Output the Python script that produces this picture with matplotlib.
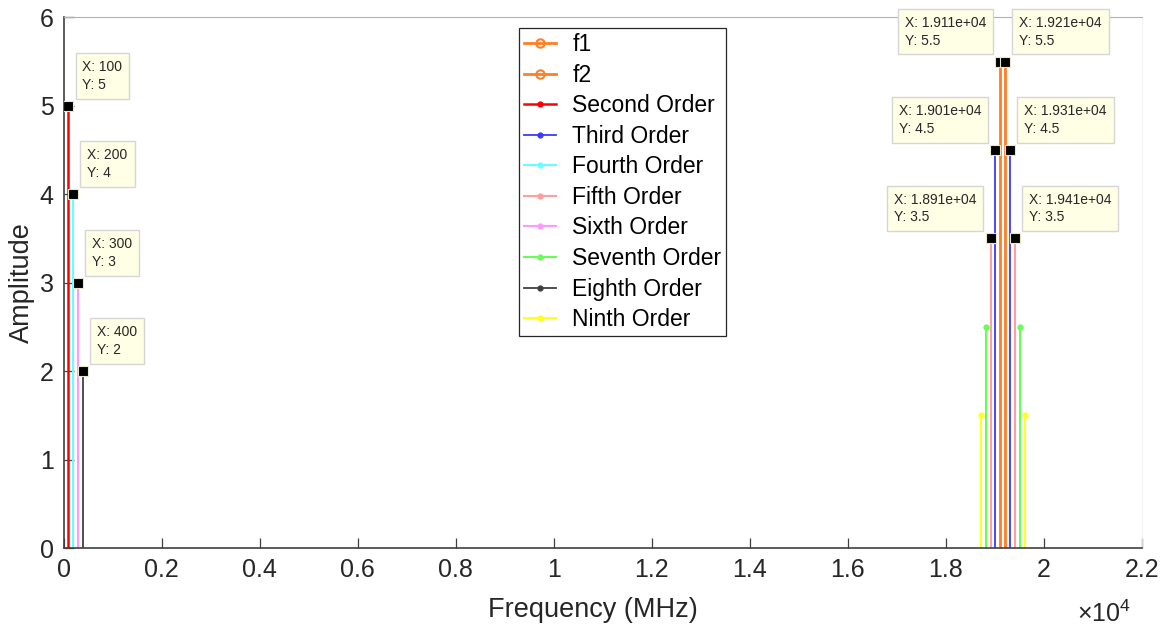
import numpy as np
import matplotlib.pyplot as plt
from matplotlib.lines import Line2D
from matplotlib.legend_handler import HandlerLine2D
from matplotlib.ticker import FuncFormatter

plt.rcParams['font.family'] = ['Liberation Sans', 'DejaVu Sans']
plt.rcParams['mathtext.default'] = 'regular'

# Данные: частоты (МГц) и амплитуды
f1_x, f1_y = [19110], [5.5]
f2_x, f2_y = [19210], [5.5]
ord2_x, ord2_y = [100], [5]
ord3_x, ord3_y = [19010, 19310], [4.5, 4.5]
ord4_x, ord4_y = [200], [4]
ord5_x, ord5_y = [18910, 19410], [3.5, 3.5]
ord6_x, ord6_y = [300], [3]
ord7_x, ord7_y = [18810, 19510], [2.5, 2.5]
ord8_x, ord8_y = [400], [2]
ord9_x, ord9_y = [18710, 19610], [1.5, 1.5]

# Подсказки (data tips)
tip_x = [100, 200, 300, 400, 19110, 19210, 19010, 19310, 18910, 19410]
tip_y = [5, 4, 3, 2, 5.5, 5.5, 4.5, 4.5, 3.5, 3.5]
tip_side = ['r', 'r', 'r', 'r', 'l', 'r', 'l', 'r', 'l', 'r']

orange = '#ff7f27'
series = [
    ('f1', f1_x, f1_y, orange, 2.0, 'o'),
    ('f2', f2_x, f2_y, orange, 2.0, 'o'),
    ('Second Order', ord2_x, ord2_y, '#ff0000', 1.8, '.'),
    ('Third Order', ord3_x, ord3_y, '#3a3aff', 1.3, '.'),
    ('Fourth Order', ord4_x, ord4_y, '#66ffff', 1.5, '.'),
    ('Fifth Order', ord5_x, ord5_y, '#ff9e9e', 1.5, '.'),
    ('Sixth Order', ord6_x, ord6_y, '#ff99ff', 1.5, '.'),
    ('Seventh Order', ord7_x, ord7_y, '#66ff55', 1.5, '.'),
    ('Eighth Order', ord8_x, ord8_y, '#404040', 1.3, '.'),
    ('Ninth Order', ord9_x, ord9_y, '#ffff22', 1.5, '.'),
]


class RightMarker(HandlerLine2D):
    # маркер только на правом конце линии, как в MATLAB
    def get_xdata(self, legend, xdescent, ydescent, width, height, fontsize):
        xdata = np.array([-xdescent, -xdescent + width])
        return xdata, xdata[-1:]


fig = plt.figure(figsize=(11.66, 6.32), dpi=100)
ax = fig.add_axes([0.0545, 0.1329, 0.9249, 0.8397])

handles = []
for name, xs, ys, col, lw, mk in series:
    markerline, stemlines, baseline = ax.stem(xs, ys, basefmt=' ')
    plt.setp(stemlines, color=col, linewidth=lw)
    if mk == 'o':
        plt.setp(markerline, color=col, marker='o', markersize=6,
                 markerfacecolor='none', markeredgewidth=1.5)
        handles.append(Line2D([], [], color=col, lw=lw, marker='o', ms=6,
                              mfc='none', mew=1.5))
    else:
        plt.setp(markerline, color=col, marker='o', markersize=3.5)
        handles.append(Line2D([], [], color=col, lw=lw, marker='o', ms=3.5))

# Data tips
for x, y, side in zip(tip_x, tip_y, tip_side):
    ax.plot(x, y, 's', color='black', ms=7.5, mec='#e8e8c8', mew=0.8, zorder=5)
    dx = 14 if side == 'r' else -14
    ax.annotate(f'X: {x:.4g}\nY: {y:.4g}', xy=(x, y), xytext=(dx, 14),
                textcoords='offset pixels', ha='left' if side == 'r' else 'right',
                va='bottom', multialignment='left', fontsize=10, color='#262626',
                linespacing=1.35,
                bbox=dict(boxstyle='square,pad=0.5', fc='#ffffe6', ec='#d6d6d6', lw=1),
                zorder=6)

ax.set_xlim(0, 22000)
ax.set_ylim(0, 6)
ax.set_xticks(np.arange(0, 22001, 2000))
ax.set_yticks(np.arange(0, 7, 1))
ax.xaxis.set_major_formatter(FuncFormatter(lambda v, _: f'{v / 1e4:g}'))
ax.tick_params(direction='in', length=7, width=0.9, color='#404040',
               labelsize=18, labelcolor='#262626', pad=7)

for s in ['left', 'bottom']:
    ax.spines[s].set_color('#404040')
    ax.spines[s].set_linewidth(1.2)
ax.spines['top'].set_color('#b0b0b0')
ax.spines['top'].set_linewidth(0.8)
ax.spines['right'].set_color('#f0f0f0')
ax.spines['right'].set_linewidth(0.6)

ax.set_xlabel('Frequency (MHz)', fontsize=19.5, color='#262626')
ax.set_ylabel('Amplitude', fontsize=19.5, color='#262626')
ax.xaxis.set_label_coords(0.491, -0.093)
ax.yaxis.set_label_coords(-0.0264, 0.50)

ax.text(0.9898, -0.100, r'×10$^{4}$', transform=ax.transAxes, ha='right',
        va='top', fontsize=18, color='#262626')

leg = ax.legend(handles, [s[0] for s in series], handler_map={Line2D: RightMarker()},
                loc='upper left', bbox_to_anchor=(0.4223, 0.9798), fontsize=16.5,
                fancybox=False, edgecolor='#262626', framealpha=1, borderpad=0.22,
                labelspacing=0.33, handlelength=1.4, handletextpad=0.7, borderaxespad=0)
leg.get_frame().set_linewidth(0.9)

plt.savefig('out.png', dpi=100)
plt.close()
